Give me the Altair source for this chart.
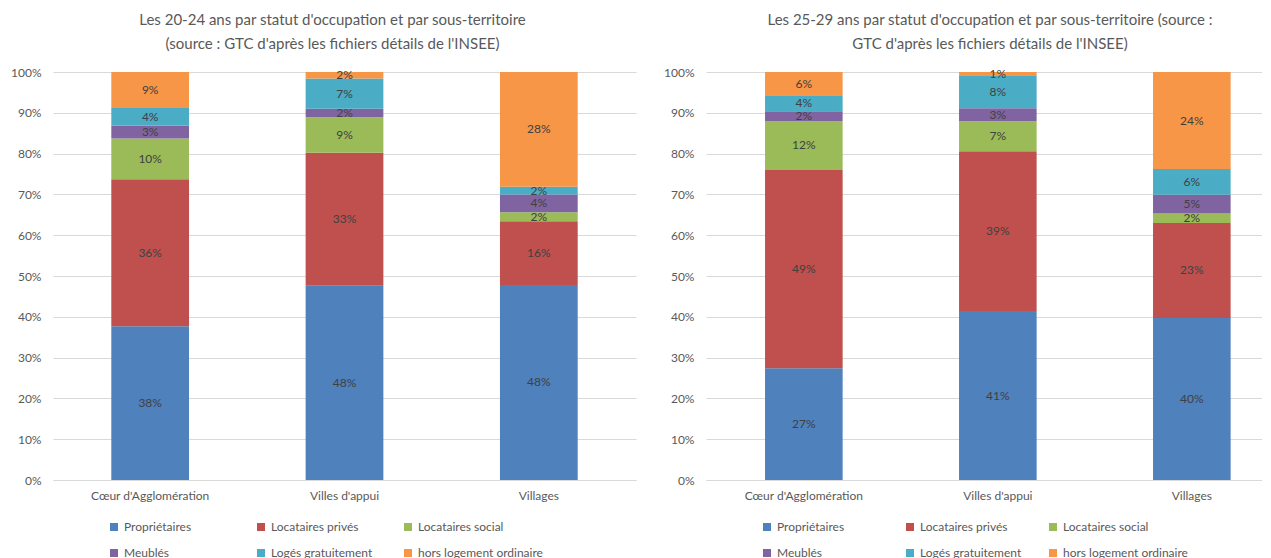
import altair as alt
import pandas as pd

categories = ["Cœur d'Agglomération", "Villes d'appui", "Villages"]
series = ["Propriétaires", "Locataires privés", "Locataires social",
          "Meublés", "Logés gratuitement", "hors logement ordinaire"]
colors = ["#4F81BD", "#C0504D", "#9BBB59", "#8064A2", "#4BACC6", "#F79646"]

# 20-24 ans (% per category, in category order)
a20_proprietaires = [37.7, 47.6, 47.8]
a20_loc_prives = [36.0, 32.6, 15.6]
a20_loc_social = [10.0, 8.7, 2.2]
a20_meubles = [3.2, 2.1, 4.4]
a20_loges = [4.3, 7.4, 1.9]
a20_hors = [8.8, 1.6, 28.1]

# 25-29 ans
a25_proprietaires = [27.4, 41.4, 39.7]
a25_loc_prives = [48.6, 39.2, 23.3]
a25_loc_social = [12.0, 7.3, 2.3]
a25_meubles = [2.4, 3.2, 4.6]
a25_loges = [3.9, 8.1, 6.3]
a25_hors = [5.7, 0.8, 23.8]

title_left = ["Les 20-24 ans par statut d'occupation et par sous-territoire",
              "(source : GTC d'après les fichiers détails de l'INSEE)"]
title_right = ["Les 25-29 ans par statut d'occupation et par sous-territoire (source :",
               "GTC d'après les fichiers détails de l'INSEE)"]

FONT = "Lato"
GREY = "#595959"


def build_df(cols):
    rows = []
    for si, (s, vals) in enumerate(zip(series, cols)):
        for c, v in zip(categories, vals):
            rows.append({"cat": c, "serie": s, "ord": si, "value": v})
    return pd.DataFrame(rows)


df_left = build_df([a20_proprietaires, a20_loc_prives, a20_loc_social,
                    a20_meubles, a20_loges, a20_hors])
df_right = build_df([a25_proprietaires, a25_loc_prives, a25_loc_social,
                     a25_meubles, a25_loges, a25_hors])


def panel(df, title, width, xscale, title_dx, col_pad):
    x = alt.X("cat:N", sort=categories, scale=xscale, title=None,
              axis=alt.Axis(labelAngle=0, ticks=False, domain=True,
                            domainColor="#D9D9D9", labelPadding=10,
                            labelFont=FONT, labelFontSize=12, labelColor=GREY))
    yscale = alt.Scale(domain=[0, 100], nice=False)
    bars = alt.Chart(df).mark_bar().encode(
        x=x,
        y=alt.Y("value:Q", stack="zero", scale=yscale, title=None,
                axis=alt.Axis(values=list(range(0, 101, 10)),
                              labelExpr="datum.value + '%'",
                              ticks=False, domain=False, grid=True,
                              gridColor="#D9D9D9", labelPadding=12,
                              minExtent=45, maxExtent=45,
                              labelFont=FONT, labelFontSize=12,
                              labelColor=GREY)),
        color=alt.Color("serie:N", sort=series,
                        scale=alt.Scale(domain=series, range=colors),
                        legend=alt.Legend(
                            title=None, orient="none", legendX=55,
                            legendY=449, direction="horizontal", columns=3,
                            symbolType="square", symbolSize=64,
                            symbolStrokeWidth=0, labelFont=FONT,
                            labelFontSize=12, labelColor=GREY,
                            labelOffset=4, columnPadding=col_pad,
                            rowPadding=14, gridAlign="all")),
        order=alt.Order("ord:Q", sort="ascending"),
    )
    labels = alt.Chart(df).transform_stack(
        stack="value", as_=["v0", "v1"], groupby=["cat"],
        sort=[alt.SortField("ord", order="ascending")]
    ).transform_calculate(
        mid="(datum.v0 + datum.v1) / 2",
        lbl="round(datum.value) + '%'"
    ).mark_text(font=FONT, fontSize=12, color="#404040").encode(
        x=x,
        y=alt.Y("mid:Q", scale=yscale, title=None),
        text="lbl:N",
    )
    return alt.layer(bars, labels).properties(
        width=width, height=408,
        title=alt.TitleParams(text=title, font=FONT, fontSize=15,
                              fontWeight="normal", color=GREY,
                              lineHeight=24, offset=14, anchor="middle",
                              dx=title_dx),
    )


left = panel(df_left, title_left, 583,
             alt.Scale(paddingInner=0.6, paddingOuter=0.3), -12, 6)
right = panel(df_right, title_right, 556,
              alt.Scale(paddingInner=0.6, paddingOuter=0.233, align=0.653), 6, 2)

chart = alt.hconcat(left, right, spacing=25).resolve_legend(
    color="independent"
).properties(
    padding={"left": 0, "top": 5, "right": 0, "bottom": 0}
).configure_view(stroke=None)

chart.save("out.html", embed_options={"renderer": "svg", "actions": False})
